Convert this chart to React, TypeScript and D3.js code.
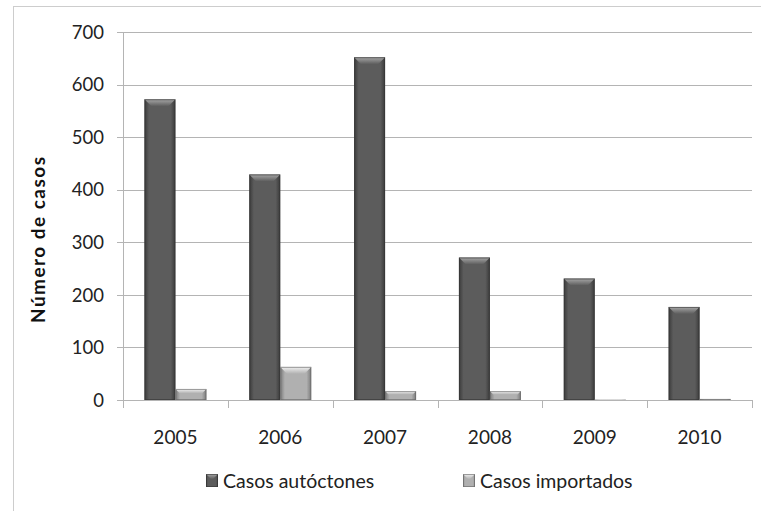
import React from "react";
import * as d3 from "d3";

const years = ["2005", "2006", "2007", "2008", "2009", "2010"];
const autoctones = [572, 429, 652, 271, 231, 177];
const importados = [21, 63, 17, 17, 1, 2];
const yTicks = [0, 100, 200, 300, 400, 500, 600, 700];
const seriesNames = ["Casos autóctones", "Casos importados"];

const W = 761;
const H = 511;
const FONT = "Lato, 'Open Sans', sans-serif";

const plot = { left: 123, right: 752, top: 32, bottom: 400 };

type Palette = { edge: string; base: string; light: string; outline: string };
const palettes: Palette[] = [
  { edge: "#3a3a3a", base: "#5c5c5c", light: "#a8a8a8", outline: "#333" },
  { edge: "#7a7a7a", base: "#b0b0b0", light: "#f2f2f2", outline: "#666" },
];

function Bar({ x, y, w, h, s }: { x: number; y: number; w: number; h: number; s: number }) {
  if (h <= 0) return null;
  const b = Math.min(7, h * 0.4, w / 2);
  return (
    <g>
      <rect x={x} y={y} width={w} height={h} fill={`url(#body${s})`} />
      <polygon
        points={`${x},${y} ${x + w},${y} ${x + w - b},${y + b} ${x + b},${y + b}`}
        fill={`url(#top${s})`}
      />
      <rect x={x + 0.5} y={y + 0.5} width={Math.max(w - 1, 0)} height={Math.max(h - 1, 0)} fill="none" stroke={palettes[s].outline} strokeWidth={1} strokeOpacity={0.6} />
    </g>
  );
}

export default function App() {
  const x = d3.scaleBand<string>().domain(years).range([plot.left, plot.right]).paddingInner(0).paddingOuter(0);
  const barW = 31;
  const y = d3.scaleLinear().domain([0, 700]).range([plot.bottom, plot.top]);
  const series = [autoctones, importados];
  const boundaries = [...years.map((yr) => x(yr)!), plot.right];

  return (
    <svg width={W} height={H} style={{ position: "absolute", left: 0, top: 0, background: "#fff" }}>
      <defs>
        {palettes.map((p, i) => (
          <React.Fragment key={i}>
            <linearGradient id={`body${i}`} x1="0" x2="1" y1="0" y2="0">
              <stop offset="0" stopColor={p.edge} />
              <stop offset="0.15" stopColor={p.base} />
              <stop offset="0.85" stopColor={p.base} />
              <stop offset="1" stopColor={p.edge} />
            </linearGradient>
            <linearGradient id={`top${i}`} x1="0" x2="0" y1="0" y2="1">
              <stop offset="0" stopColor={p.light} />
              <stop offset="1" stopColor={p.base} />
            </linearGradient>
          </React.Fragment>
        ))}
      </defs>

      {/* chart frame */}
      <rect x={13.5} y={6.5} width={W + 20} height={H + 20} fill="none" stroke="#9a9a9a" strokeWidth={1} strokeDasharray="1 1" />

      {/* gridlines and y ticks */}
      {yTicks.map((t) => (
        <g key={t}>
          <line x1={117} x2={plot.right} y1={Math.round(y(t)) + 0.5} y2={Math.round(y(t)) + 0.5} stroke="#b4b4b4" strokeWidth={1} />
          <text x={104} y={y(t)} dy="0.36em" textAnchor="end" fontFamily={FONT} fontSize={18.5} fill="#222">
            {t}
          </text>
        </g>
      ))}

      {/* y axis line */}
      <line x1={plot.left + 0.5} x2={plot.left + 0.5} y1={plot.top} y2={plot.bottom + 1} stroke="#b4b4b4" />

      {/* x axis ticks */}
      {boundaries.map((bx, i) => (
        <line key={i} x1={Math.round(bx) + 0.5} x2={Math.round(bx) + 0.5} y1={plot.bottom} y2={plot.bottom + 8} stroke="#b4b4b4" />
      ))}

      {/* bars */}
      {years.map((yr, i) => {
        const cx = x(yr)! + x.bandwidth() / 2;
        return (
          <g key={yr}>
            {series.map((vals, s) => {
              const bx = cx - barW + s * barW;
              const top = y(vals[i]);
              return <Bar key={s} x={bx} y={top} w={barW} h={plot.bottom - top} s={s} />;
            })}
            <text x={cx} y={437} dy="0.36em" textAnchor="middle" fontFamily={FONT} fontSize={19} fill="#222">
              {yr}
            </text>
          </g>
        );
      })}

      {/* y axis title */}
      <text
        transform={`translate(45,240) rotate(-90)`}
        textAnchor="middle"
        fontFamily={FONT}
        fontWeight="bold"
        fontSize={19}
        textLength={166}
        lengthAdjust="spacing"
        fill="#111"
      >
        Número de casos
      </text>

      {/* legend */}
      {seriesNames.map((name, s) => {
        const lx = s === 0 ? 206 : 463;
        return (
          <g key={name}>
            <Bar x={lx} y={474} w={12} h={13} s={s} />
            <text x={lx + 17} y={481} dy="0.36em" fontFamily={FONT} fontSize={19.5} fill="#222">
              {name}
            </text>
          </g>
        );
      })}
    </svg>
  );
}
